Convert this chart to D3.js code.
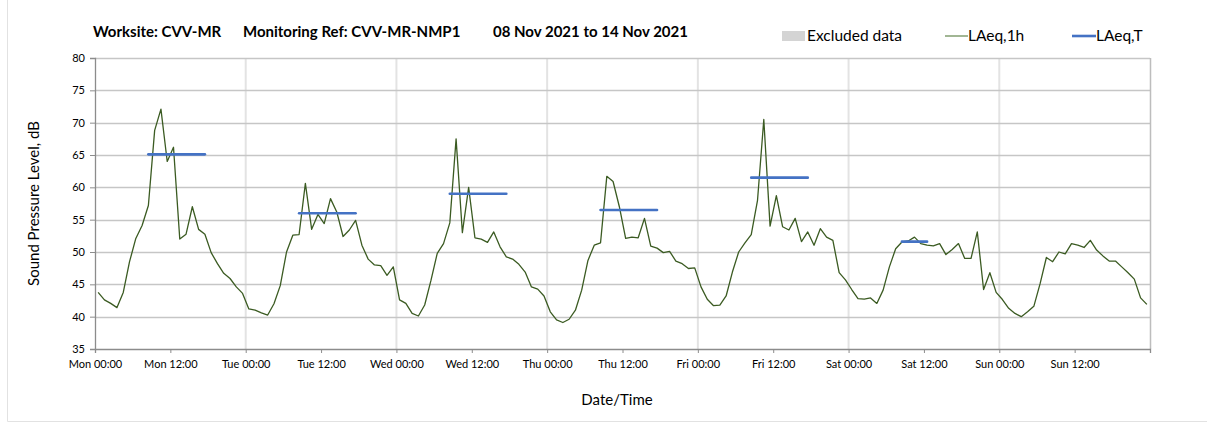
<!DOCTYPE html>
<html>
<head>
<meta charset="utf-8">
<script src="https://cdn.jsdelivr.net/npm/d3@7"></script>
<style>
  body { margin: 0; background: #fff; }
  svg text { font-family: Lato, "Open Sans", sans-serif; fill: #000; }
</style>
</head>
<body>
<div id="chart"></div>
<script>
// hourly LAeq,1h values, Mon 00:00 .. Sun 23:00
var lAeq1h = [
  43.75, 42.6, 42.05, 41.4, 43.75, 48.5, 52.1, 54.1, 57.2, 68.8, 72.1, 64.0, 66.2, 52.0, 52.75, 57.0, 53.5, 52.75, 49.9, 48.2, 46.7, 45.9, 44.6, 43.6,
  41.2, 41.0, 40.6, 40.25, 42.0, 44.8, 50.0, 52.6, 52.7, 60.6, 53.5, 55.8, 54.4, 58.25, 56.2, 52.4, 53.4, 54.9, 51.05, 48.9, 48.0, 47.9, 46.4, 47.7,
  42.6, 42.05, 40.5, 40.1, 41.8, 45.6, 49.8, 51.3, 54.5, 67.5, 53.0, 60.0, 52.2, 52.0, 51.5, 53.1, 50.8, 49.25, 48.9, 48.1, 46.9, 44.6, 44.25, 43.2,
  40.75, 39.5, 39.1, 39.6, 41.0, 44.1, 48.7, 51.05, 51.4, 61.7, 60.9, 57.0, 52.1, 52.3, 52.2, 55.2, 50.9, 50.6, 49.9, 50.1, 48.6, 48.2, 47.45, 47.55,
  44.6, 42.7, 41.7, 41.8, 43.2, 46.9, 50.0, 51.4, 52.7, 58.0, 70.5, 54.0, 58.7, 53.9, 53.4, 55.2, 51.6, 53.1, 51.05, 53.6, 52.3, 51.8, 46.8, 45.7,
  44.2, 42.8, 42.7, 42.9, 42.05, 44.1, 47.7, 50.5, 51.55, 51.7, 52.3, 51.3, 51.05, 50.95, 51.3, 49.6, 50.4, 51.3, 49.0, 49.0, 53.1, 44.2, 46.8, 43.75,
  42.65, 41.3, 40.5, 40.0, 40.75, 41.6, 45.1, 49.15, 48.5, 50.0, 49.7, 51.3, 51.05, 50.7, 51.8, 50.3, 49.4, 48.6, 48.6, 47.7, 46.8, 45.8, 42.9, 41.9
];

// LAeq,T per day (first and last hour of the period)
var tDays = [0, 1, 2, 3, 4, 5];
var tFirstHour = [8, 8, 8, 8, 8, 8];
var tLastHour = [17, 17, 17, 17, 17, 12];
var tLevels = [65.1, 56.0, 59.0, 56.5, 61.5, 51.6];

var xTickLabels = ['Mon 00:00', 'Mon 12:00', 'Tue 00:00', 'Tue 12:00', 'Wed 00:00', 'Wed 12:00', 'Thu 00:00',
                   'Thu 12:00', 'Fri 00:00', 'Fri 12:00', 'Sat 00:00', 'Sat 12:00', 'Sun 00:00', 'Sun 12:00', ''];
var yTicks = [35, 40, 45, 50, 55, 60, 65, 70, 75, 80];

var width = 1207,
    height = 430,
    plotLeft = 95,
    plotRight = 1150,
    plotTop = 58,
    plotBottom = 349,
    greenColor = '#3b5b22',
    blueColor = '#4472c4',
    gridColor = '#c6c6c6',
    axisColor = '#8c8c8c';

var svg = d3.select('#chart').append('svg')
    .attr('width', width)
    .attr('height', height);

// faint outer frame (left and bottom edges visible)
svg.append('line').attr('x1', 7.5).attr('x2', 7.5).attr('y1', 0).attr('y2', 421.5)
   .attr('stroke', '#e2e2e2');
svg.append('line').attr('x1', 7.5).attr('x2', width).attr('y1', 421.5).attr('y2', 421.5)
   .attr('stroke', '#e2e2e2');

var x = d3.scaleLinear().domain([0, 168]).range([plotLeft, plotRight]);
var y = d3.scaleLinear().domain([35, 80]).range([plotBottom, plotTop]);

// vertical day gridlines
svg.append('g').selectAll('line')
   .data(d3.range(24, 168, 24))
   .enter().append('line')
   .attr('x1', function(d) { return x(d); })
   .attr('x2', function(d) { return x(d); })
   .attr('y1', plotTop)
   .attr('y2', plotBottom)
   .attr('stroke', '#e3e3e3')
   .attr('stroke-width', 2);

// horizontal gridlines
svg.append('g').selectAll('line')
   .data(yTicks.slice(1))
   .enter().append('line')
   .attr('x1', plotLeft)
   .attr('x2', plotRight)
   .attr('y1', function(d) { return Math.round(y(d)) + 0.5; })
   .attr('y2', function(d) { return Math.round(y(d)) + 0.5; })
   .attr('stroke', gridColor)
   .attr('stroke-width', 1.3);

// right edge line
svg.append('line').attr('x1', plotRight + 0.5).attr('x2', plotRight + 0.5).attr('y1', plotTop).attr('y2', plotBottom)
   .attr('stroke', '#bdbdbd').attr('stroke-width', 1.5);

// axes
var yAxis = d3.axisLeft(y).tickValues(yTicks).tickSize(5).tickPadding(5).tickFormat(d3.format('d'));
var gy = svg.append('g').attr('transform', 'translate(' + plotLeft + ',0)').call(yAxis);
var xAxis = d3.axisBottom(x).tickValues(d3.range(0, 169, 12)).tickSize(4).tickPadding(7)
    .tickFormat(function(d, i) { return xTickLabels[i]; });
var gx = svg.append('g').attr('transform', 'translate(0,' + plotBottom + ')').call(xAxis);

[gx, gy].forEach(function(g) {
  g.select('.domain').attr('stroke', axisColor).attr('stroke-width', 1.3);
  g.selectAll('.tick line').attr('stroke', axisColor);
  g.selectAll('.tick text').attr('font-size', '11px').attr('fill', '#222')
   .style('font-family', 'Lato, sans-serif');
});

// LAeq,1h line
var line = d3.line()
    .x(function(d, i) { return x(i + 0.5); })
    .y(function(d) { return y(d); });

svg.append('path')
   .datum(lAeq1h)
   .attr('fill', 'none')
   .attr('stroke', greenColor)
   .attr('stroke-width', 1.3)
   .attr('stroke-linejoin', 'round')
   .attr('d', line);

// LAeq,T segments
svg.append('g').selectAll('line')
   .data(tDays)
   .enter().append('line')
   .attr('x1', function(d, i) { return x(d * 24 + tFirstHour[i] + 0.5); })
   .attr('x2', function(d, i) { return x(d * 24 + tLastHour[i] + 0.5); })
   .attr('y1', function(d, i) { return y(tLevels[i]); })
   .attr('y2', function(d, i) { return y(tLevels[i]); })
   .attr('stroke', blueColor)
   .attr('stroke-width', 2.6)
   .attr('stroke-linecap', 'round');

// title
var title = svg.append('g').attr('font-weight', 'bold').attr('font-size', '15px');
title.append('text').attr('x', 93).attr('y', 37).text('Worksite: CVV-MR');
title.append('text').attr('x', 243).attr('y', 37).text('Monitoring Ref: CVV-MR-NMP1');
title.append('text').attr('x', 493).attr('y', 37).text('08 Nov 2021 to 14 Nov 2021');

// legend
var legend = svg.append('g').attr('font-size', '15.5px');
legend.append('rect').attr('x', 782).attr('y', 31).attr('width', 23).attr('height', 10).attr('fill', '#d4d4d4');
legend.append('text').attr('x', 807).attr('y', 41).text('Excluded data');
legend.append('line').attr('x1', 945).attr('x2', 968).attr('y1', 36).attr('y2', 36)
      .attr('stroke', '#6f8f5a').attr('stroke-width', 1.3);
legend.append('text').attr('x', 968).attr('y', 41).text('LAeq,1h');
legend.append('line').attr('x1', 1072).attr('x2', 1096).attr('y1', 36).attr('y2', 36)
      .attr('stroke', blueColor).attr('stroke-width', 2.6);
legend.append('text').attr('x', 1096).attr('y', 41).text('LAeq,T');

// axis titles
svg.append('text')
   .attr('transform', 'translate(39,' + ((plotTop + plotBottom) / 2) + ') rotate(-90)')
   .attr('text-anchor', 'middle')
   .attr('font-size', '15px')
   .text('Sound Pressure Level, dB');

svg.append('text')
   .attr('x', 617)
   .attr('y', 405)
   .attr('text-anchor', 'middle')
   .attr('font-size', '15px')
   .text('Date/Time');
</script>
</body>
</html>
